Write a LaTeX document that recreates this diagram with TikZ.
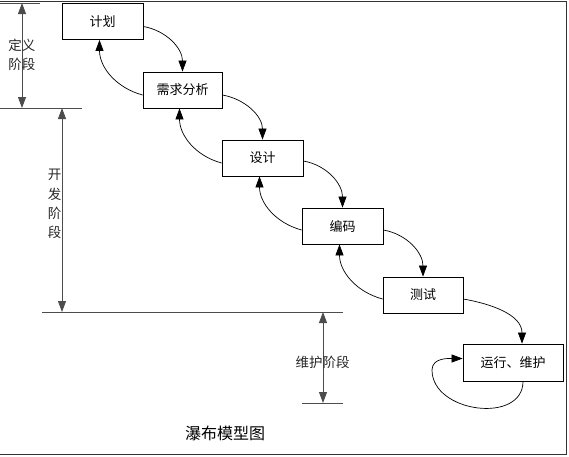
\documentclass[tikz,border=0pt]{standalone}
\usepackage{fontspec}
\setmainfont{Noto Sans CJK SC}
\usetikzlibrary{arrows.meta}
\begin{document}
\begin{tikzpicture}[x=1pt,y=1pt,
  stagebox/.style={draw=black,line width=0.8pt,minimum width=81pt,minimum height=36pt,inner sep=0pt,font=\fontsize{13}{15}\selectfont},
  flow/.style={-{Triangle[length=11pt,width=8pt]},line width=0.7pt,black},
  phase/.style={{Triangle[length=11pt,width=8pt]}-{Triangle[length=11pt,width=8pt]},line width=0.8pt,draw=gray!60!black,fill=black},
  phaseline/.style={line width=0.9pt,draw=gray!60!black},
  lbl/.style={inner sep=0pt,font=\fontsize{13.5}{19.5}\selectfont,align=center}]
\useasboundingbox (0,0) rectangle (569,-456);
% frame
\draw[line width=1pt,gray!40!black] (0,-1) -- (566,-1) -- (566,-454) -- (0,-454);
% stages
\node[stagebox] (jh) at (102.5,-21.5) {计划};
\node[stagebox,minimum width=79pt] (xq) at (182.5,-90) {需求分析};
\node[stagebox] (sj) at (262.5,-158) {设计};
\node[stagebox] (bm) at (342.5,-226) {编码};
\node[stagebox,minimum width=80pt] (cs) at (423,-295) {测试};
\node[stagebox,minimum width=100pt,minimum height=37pt] (yx) at (513,-362.5) {运行、维护};
% forward arrows
\draw[flow] ([yshift=-5pt]jh.east) to[out=-10,in=90] (xq.north);
\draw[flow] ([yshift=-5pt]xq.east) to[out=-10,in=90] (sj.north);
\draw[flow] ([yshift=-3pt]sj.east) to[out=-10,in=90] (bm.north);
\draw[flow] ([yshift=-4pt]bm.east) to[out=-10,in=90] (cs.north);
\draw[flow] ([yshift=-4pt]cs.east) to[out=-10,in=90] ([xshift=9pt]yx.north);
% backward arrows
\draw[flow] ([yshift=-5pt]xq.west) to[out=165,in=-90] ([xshift=-3pt]jh.south);
\draw[flow] ([yshift=-5pt]sj.west) to[out=165,in=-90] ([xshift=-3pt]xq.south);
\draw[flow] ([yshift=-4pt]bm.west) to[out=165,in=-90] ([xshift=-3pt]sj.south);
\draw[flow] ([yshift=-4pt]cs.west) to[out=165,in=-90] ([xshift=-3pt]bm.south);
% self loop
\coordinate (lp) at (432,-370);
\draw[flow] ([xshift=10pt]yx.south) to[out=-90,in=-90,looseness=1.2] (lp) to[out=90,in=180] ([yshift=4pt]yx.west);
% phase marks
\coordinate (m1a) at (0,-3);   \coordinate (m1b) at (40,-3);
\coordinate (m2a) at (0,-108); \coordinate (m2b) at (82,-108);
\coordinate (m3a) at (42,-312); \coordinate (m3b) at (343,-312);
\coordinate (m4a) at (302,-403); \coordinate (m4b) at (343,-403);
\draw[phaseline] (m1a) -- (m1b);
\draw[phaseline] (m2a) -- (m2b);
\draw[phaseline] (m3a) -- (m3b);
\draw[phaseline] (m4a) -- (m4b);
\coordinate (p1t) at (22,-3);  \coordinate (p1b) at (22,-108);
\coordinate (p2t) at (62,-108); \coordinate (p2b) at (62,-312);
\coordinate (p3t) at (323,-312); \coordinate (p3b) at (323,-403);
\draw[phase] (p1t) -- (p1b);
\draw[phase] (p2t) -- (p2b);
\draw[phase] (p3t) -- (p3b);
% phase labels
\node[lbl,text=gray!30!black] (l1) at (22,-55) {定义\\阶段};
\node[lbl,text=gray!30!black,font=\fontsize{13.5}{19.3}\selectfont] (l2) at (54.5,-204) {开\\发\\阶\\段};
\node[lbl,text=gray!30!black] (l3) at (322.5,-362) {维护阶段};
% caption
\node[inner sep=0pt,font=\fontsize{16}{18}\selectfont] (cap) at (225,-433) {瀑布模型图};
\end{tikzpicture}
\end{document}
